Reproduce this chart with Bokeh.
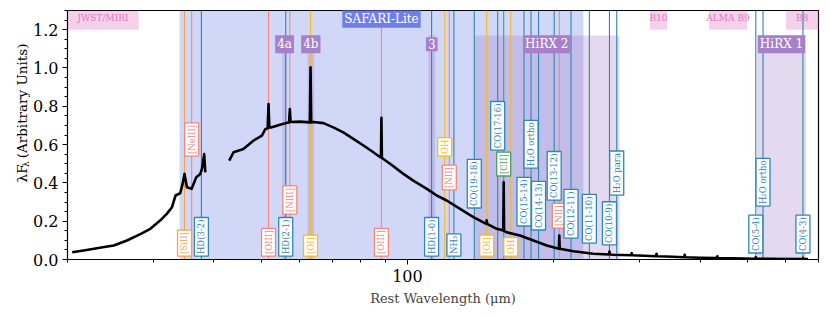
import math
from bokeh.plotting import figure
from bokeh.layouts import row
from bokeh.models import FixedTicker, PrintfTickFormatter, ColumnDataSource, Range1d
from bokeh.core.properties import value
from bokeh.embed import file_html
from bokeh.resources import INLINE

# ---------------- data ----------------
# spectrum, short-wavelength segment (um, arbitrary units)
spec1_wl = [20.45, 21.9, 23.3, 24.9, 26.5, 28.3, 29.6, 31.0, 32.0, 32.8, 33.35, 34.1,
            34.5, 34.8, 35.2, 36.0, 36.8, 37.5, 37.8, 38.2, 38.4]
spec1_flux = [0.038, 0.050, 0.061, 0.073, 0.099, 0.134, 0.160, 0.203, 0.238, 0.273, 0.334, 0.346,
              0.396, 0.447, 0.377, 0.369, 0.430, 0.447, 0.473, 0.550, 0.455]

# spectrum, long-wavelength segment
spec2_wl = [43.0, 43.9, 46.0, 48.2, 50.2, 51.0, 51.6, 51.8, 52.0, 52.6, 54.7, 56.6,
            57.1, 57.3, 57.5, 60.1, 63.0, 63.2, 63.4, 64.1, 67.2, 70.4, 73.8, 77.4,
            81.2, 85.1, 87.9, 88.2, 88.4, 88.6, 92.1, 98.1, 102.8, 109.6, 114.9, 120.4,
            128.3, 136.6, 145.2, 145.5, 145.8, 152.6, 157.4, 157.7, 158.0, 160.0, 170.3,
            181.5, 193.4, 204.8, 205.2, 205.6, 219.3, 241.1, 259.5, 260.2, 260.9, 265.0,
            288.5, 289.1, 289.8, 324.3, 325.1, 325.9, 341.0, 370.7, 371.6, 372.5, 399.4,
            432.6, 433.6, 434.6, 467.0, 519.0, 520.2, 521.4, 547.6, 641.0, 648.8, 650.3,
            651.8, 666.0]
spec2_flux = [0.516, 0.560, 0.577, 0.620, 0.647, 0.680, 0.685, 0.812, 0.690, 0.690, 0.704, 0.714,
              0.716, 0.786, 0.718, 0.720, 0.716, 1.003, 0.716, 0.718, 0.712, 0.690, 0.664, 0.630,
              0.595, 0.560, 0.534, 0.534, 0.740, 0.530, 0.500, 0.447, 0.412, 0.369, 0.334, 0.308,
              0.264, 0.221, 0.186, 0.205, 0.186, 0.160, 0.152, 0.403, 0.150, 0.142, 0.125,
              0.099, 0.073, 0.056, 0.125, 0.056, 0.043, 0.030, 0.026, 0.042, 0.026, 0.025,
              0.022, 0.033, 0.022, 0.017, 0.030, 0.017, 0.016, 0.012, 0.025, 0.012, 0.009,
              0.007, 0.017, 0.007, 0.006, 0.004, 0.012, 0.004, 0.004, 0.003, 0.003, 0.008,
              0.003, 0.002]

# spectral lines
line_wl = [34.8, 36.0, 37.7, 51.8, 56.2, 57.3, 63.2, 88.4, 112.1, 119.3, 121.9, 124.6,
           137.2, 145.5, 153.3, 157.7, 163.1, 173.6, 179.5, 186.0, 200.3, 205.2, 216.9,
           236.6, 260.2, 269.3, 520.2, 538.3, 650.3]
line_name = ["[SiII]", "[NeIII]", "HD(3-2)", "[OIII]", "HD(2-1)", "[NIII]", "[OI]", "[OIII]",
             "HD(1-0)", "OH", "[NII]", "NH₃", "CO(19-18)", "[OI]", "CO(17-16)", "[CII]", "OH",
             "CO(15-14)", "H₂O ortho", "CO(14-13)", "CO(13-12)", "[NII]", "CO(12-11)",
             "CO(11-10)", "CO(10-9)", "H₂O para", "CO(5-4)", "H₂O ortho", "CO(4-3)"]
line_kind = ["si", "ion", "mol", "ion", "mol", "ion", "oi", "ion",
             "mol", "oi", "ion", "mol", "mol", "oi", "mol", "cii", "oi",
             "mol", "mol", "mol", "mol", "ion", "mol",
             "mol", "mol", "mol", "mol", "mol", "mol"]
line_label_y = [0.018, 0.540, 0.018, 0.018, 0.018, 0.237, 0.018, 0.018,
                0.018, 0.540, 0.363, 0.018, 0.269, 0.018, 0.571, 0.436, 0.018,
                0.175, 0.477, 0.154, 0.310, 0.164, 0.112,
                0.086, 0.076, 0.336, 0.034, 0.279, 0.034]

# instrument bands
safari_name = "SAFARI-Lite"
safari_lo, safari_hi = 34.0, 230.0
hirx_name = ["HiRX 1", "HiRX 2", "3", "4a", "4b"]
hirx_lo = [523.0, 137.0, 110.4, 55.3, 62.3]
hirx_hi = [660.0, 273.0, 114.0, 56.5, 64.3]
hirx_top = 1.17
top_name = ["JWST/MIRI", "B10", "ALMA B9", "B8"]
top_lo = [5.0, 315.0, 417.0, 600.0]
top_hi = [28.0, 342.0, 499.0, 780.0]

x_lim = (20, 700)
y_lim = (0, 1.3)
x_major = [100]
x_minor = [20, 30, 40, 50, 60, 70, 80, 90, 200, 300, 400, 500, 600, 700]
y_major = [0.0, 0.2, 0.4, 0.6, 0.8, 1.0, 1.2]
y_minor = [round(0.05 * i, 2) for i in range(27)]

# y-axis title pieces (main text, subscript, rest)
ylabel_parts = ["λF", "λ", "(Arbitrary Units)"]

# ---------------- style ----------------
kind_color = {"ion": "#f2877b", "si": "#f5a540", "oi": "#f4bb1c",
              "mol": "#2f86b4", "cii": "#4f9e5e"}
SERIF = value("DejaVu Serif")
H = 310
LEFT_W = 30

p = figure(width=822 - LEFT_W, height=H, x_axis_type="log", x_range=x_lim, y_range=y_lim,
           output_backend="svg", toolbar_location=None,
           min_border_left=67 - LEFT_W, min_border_right=4, min_border_top=10, min_border_bottom=51)
p.xgrid.visible = False
p.ygrid.visible = False
p.outline_line_color = "black"
p.outline_line_width = 1.2
p.background_fill_color = "white"
p.border_fill_color = "white"

# bands
p.quad(left=[safari_lo], right=[safari_hi], bottom=[y_lim[0]], top=[y_lim[1]],
       fill_color="#4965e0", fill_alpha=0.25, line_color=None)
p.quad(left=hirx_lo, right=hirx_hi, bottom=0, top=hirx_top,
       fill_color="#9467bd", fill_alpha=0.25, line_color=None)
p.quad(left=top_lo, right=top_hi, bottom=1.2, top=y_lim[1],
       fill_color="#e377c2", fill_alpha=0.35, line_color=None)

# vertical lines
colors = [kind_color[k] for k in line_kind]
lsrc = ColumnDataSource(dict(x=line_wl, y=line_label_y, name=line_name, color=colors))
p.segment(x0="x", y0=0, x1="x", y1=y_lim[1], source=lsrc, line_color="color", line_width=1.1)

# spectrum
p.line(spec1_wl, spec1_flux, line_color="black", line_width=2.6, line_join="round")
p.line(spec2_wl, spec2_flux, line_color="black", line_width=2.6, line_join="round")

# line labels
p.text(x="x", y="y", text="name", source=lsrc, angle=math.pi / 2,
       text_font=SERIF, text_font_size="8.5px", text_color="color",
       text_align="left", text_baseline="middle",
       background_fill_color="white", border_line_color="color",
       border_line_width=1.3, padding=2)

# band labels
p.text(x=[math.sqrt(safari_lo * safari_hi)], y=[1.257], text=[safari_name],
       text_font=SERIF, text_font_size="12px", text_color="white",
       text_align="center", text_baseline="middle",
       background_fill_color="#6f7fe6", padding=2)
hx = [math.sqrt(a * b) for a, b in zip(hirx_lo, hirx_hi)]
p.text(x=hx, y=[1.124] * len(hx), text=hirx_name,
       text_font=SERIF, text_font_size="12px", text_color="white",
       text_align="center", text_baseline="middle",
       background_fill_color="#a680c8", padding=2)
tx = [math.sqrt(max(a, x_lim[0]) * min(b, x_lim[1])) for a, b in zip(top_lo, top_hi)]
p.text(x=tx, y=[1.262] * len(tx), text=top_name,
       text_font=SERIF, text_font_size="9px", text_color="#e377c2",
       text_align="center", text_baseline="middle")

# axes
for ax in (p.xaxis[0], p.yaxis[0]):
    ax.axis_line_color = "black"
    ax.major_tick_line_color = "black"
    ax.minor_tick_line_color = "black"
    ax.major_tick_in = 0
    ax.major_tick_out = 5
    ax.minor_tick_in = 0
    ax.minor_tick_out = 3
    ax.major_label_text_font = "DejaVu Serif"
    ax.major_label_text_font_size = "16px"
    ax.major_label_text_color = "black"

p.xaxis.ticker = FixedTicker(ticks=x_major, minor_ticks=x_minor)
p.xaxis.formatter = PrintfTickFormatter(format="%d")
p.xaxis.major_label_standoff = 5
p.xaxis.axis_label = "Rest Wavelength (μm)"
p.xaxis.axis_label_text_font = "DejaVu Serif"
p.xaxis.axis_label_text_font_size = "13px"
p.xaxis.axis_label_text_font_style = "normal"
p.xaxis.axis_label_standoff = 6

p.yaxis.ticker = FixedTicker(ticks=y_major, minor_ticks=y_minor)
p.yaxis.formatter = PrintfTickFormatter(format="%.1f")
p.yaxis.major_label_standoff = 4

# narrow side panel carrying the rotated y-axis title (pixel coordinates)
q = figure(width=LEFT_W, height=H, x_range=Range1d(0, LEFT_W), y_range=Range1d(0, H),
           output_backend="svg", toolbar_location=None,
           min_border_left=0, min_border_right=0, min_border_top=0, min_border_bottom=0)
q.axis.visible = False
q.grid.visible = False
q.outline_line_color = None
q.background_fill_color = "white"
q.border_fill_color = "white"
q.text(x=[21.5], y=[H - 214], text=[ylabel_parts[0]], angle=math.pi / 2,
       text_font=SERIF, text_font_size="13.5px", text_color="black",
       text_align="left", text_baseline="alphabetic")
q.text(x=[25.0], y=[H - 195], text=[ylabel_parts[1]], angle=math.pi / 2,
       text_font=SERIF, text_font_size="9.5px", text_color="black",
       text_align="left", text_baseline="alphabetic")
q.text(x=[21.5], y=[H - 184], text=[ylabel_parts[2]], angle=math.pi / 2,
       text_font=SERIF, text_font_size="13.5px", text_color="black",
       text_align="left", text_baseline="alphabetic")

layout = row(q, p, spacing=0)
open("out.html", "w").write(file_html(layout, INLINE))
